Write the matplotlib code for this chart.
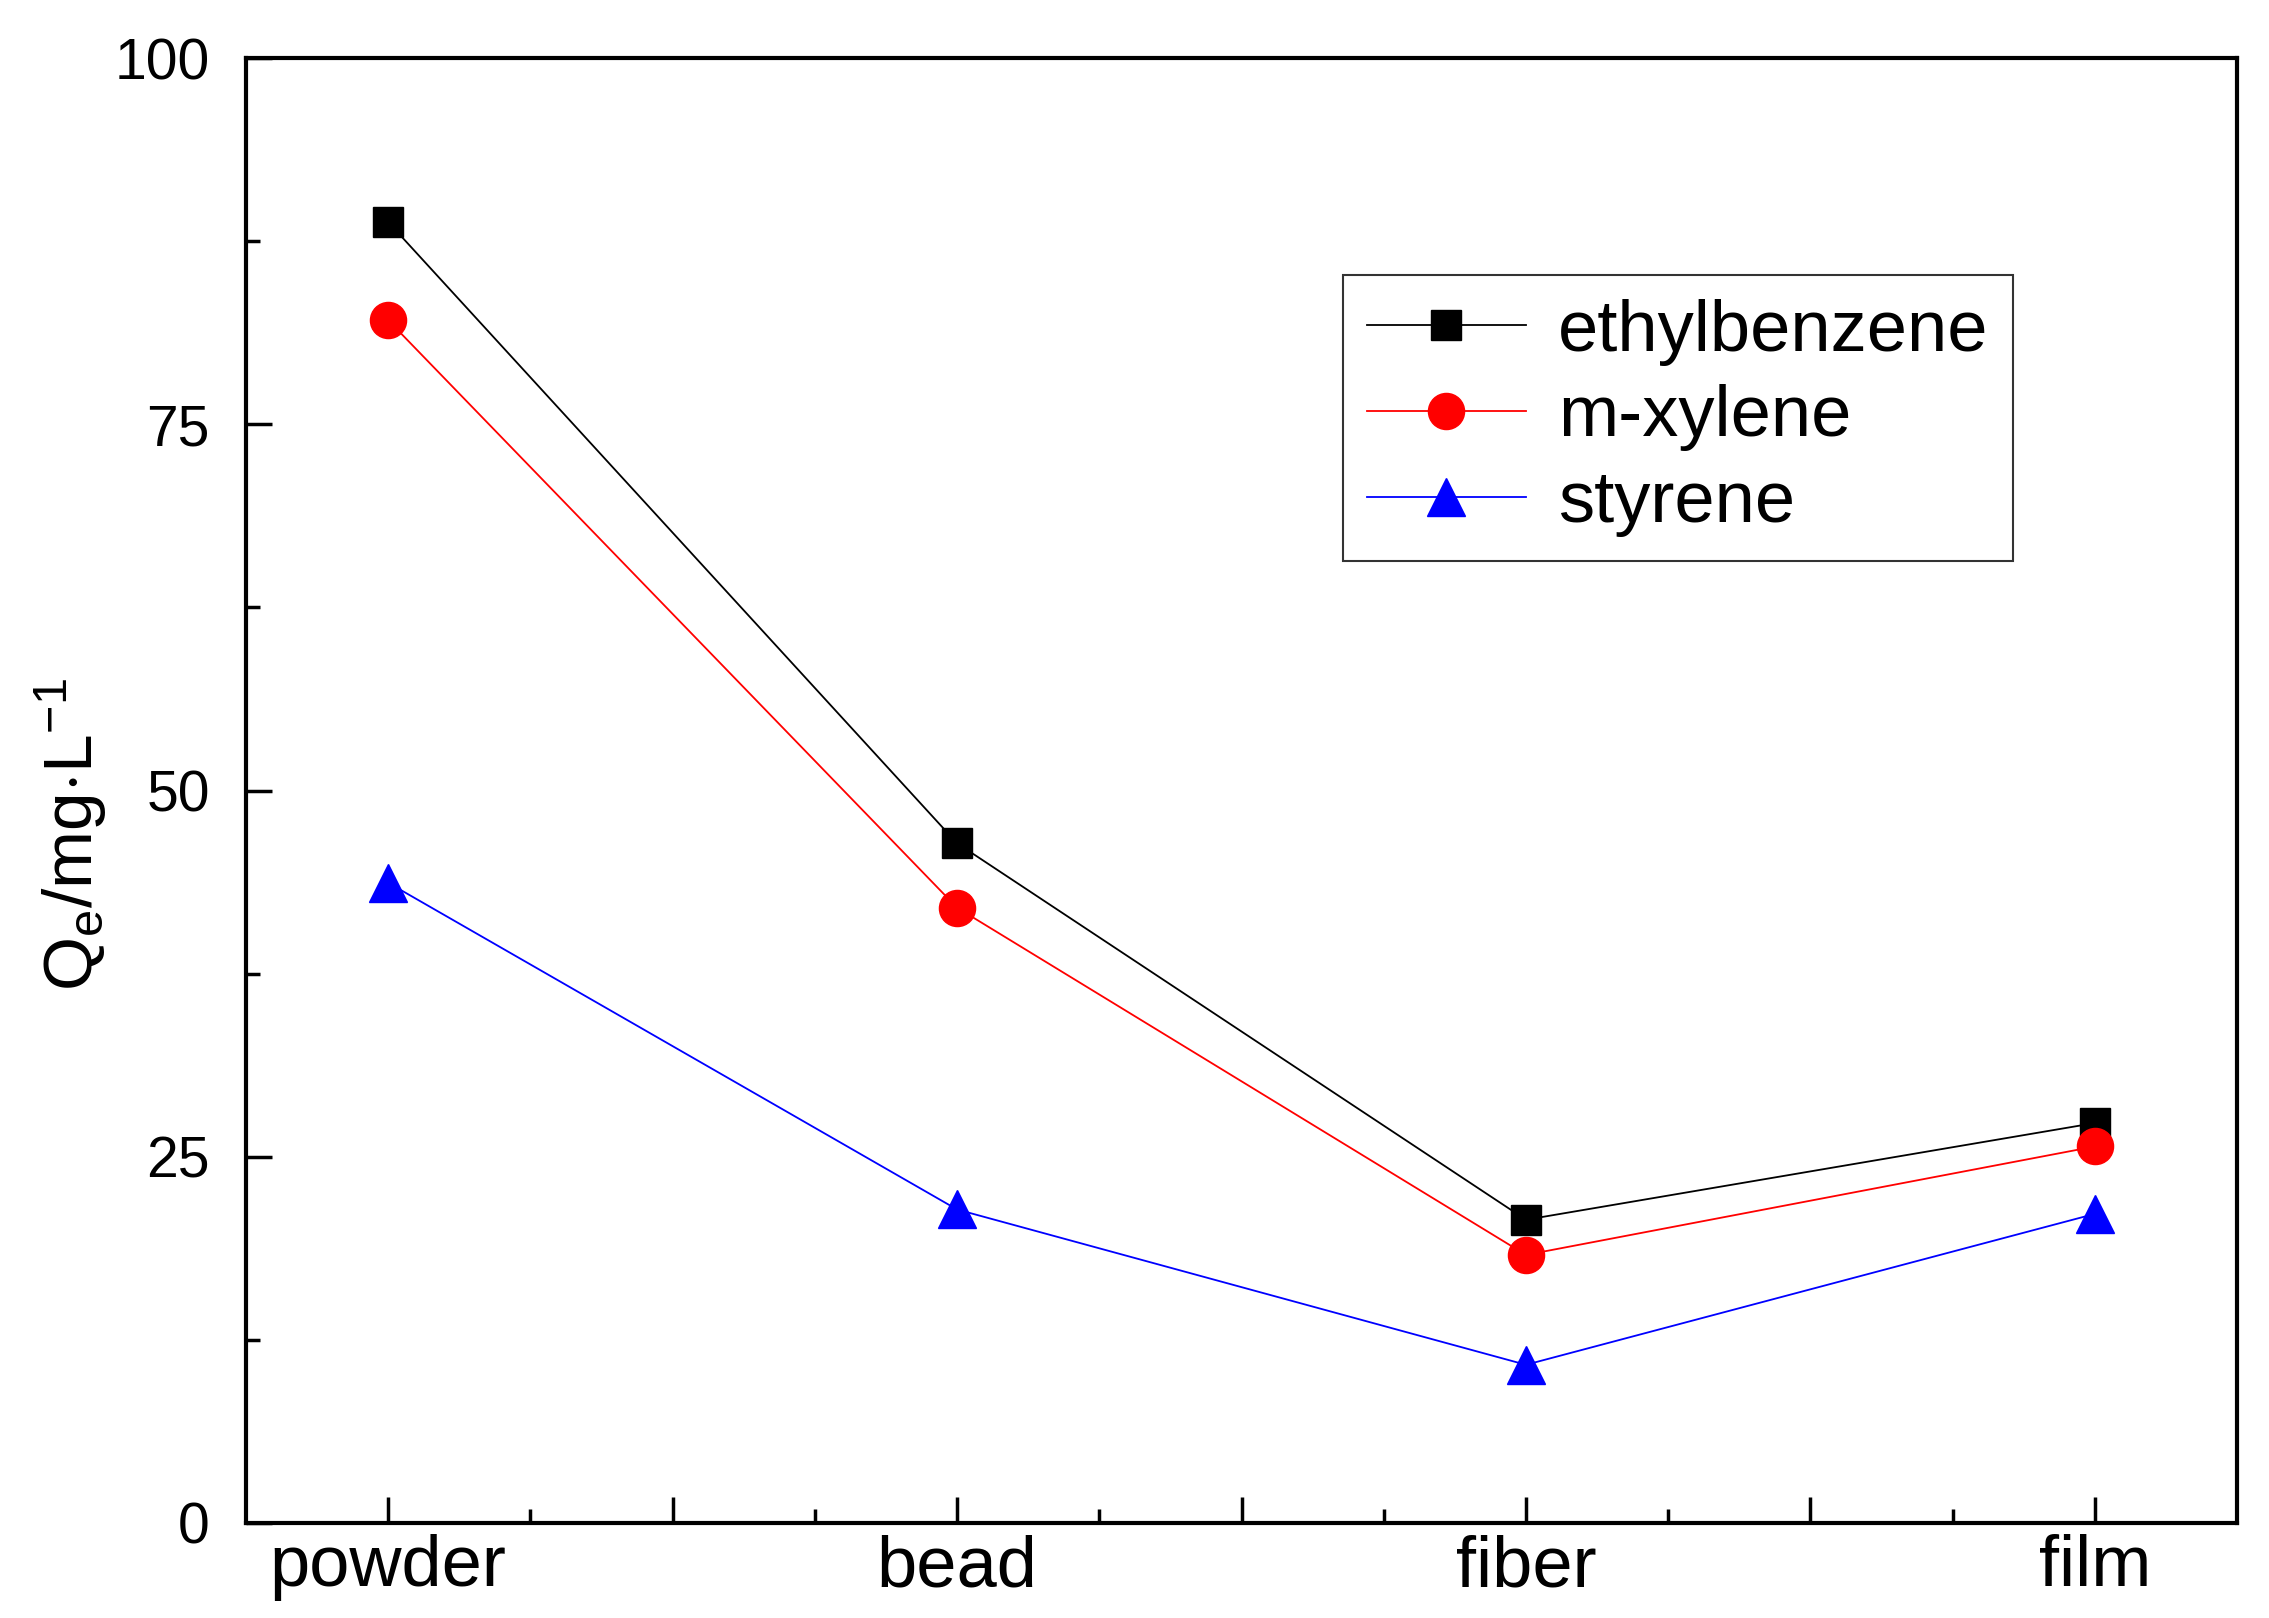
import numpy as np
import matplotlib
matplotlib.use("Agg")
import matplotlib.pyplot as plt
from matplotlib.ticker import MultipleLocator, FixedLocator

plt.rcParams['font.family'] = ['Liberation Sans', 'DejaVu Sans']
plt.rcParams['mathtext.fontset'] = 'custom'
plt.rcParams['mathtext.rm'] = 'Liberation Sans'
plt.rcParams['mathtext.it'] = 'Liberation Sans'

# data
categories = ["powder", "bead", "fiber", "film"]
ethylbenzene = [88.8, 46.4, 20.7, 27.3]
m_xylene = [82.1, 42.0, 18.3, 25.7]
styrene = [43.7, 21.4, 10.8, 21.1]

x = np.arange(len(categories))

fig = plt.figure(figsize=(22.69, 16.18), dpi=100)
ax = fig.add_axes([246 / 2269, 1 - 1523 / 1618, (2237 - 246) / 2269, (1523 - 58) / 1618])

ax.plot(x, ethylbenzene, color="black", lw=1.3, marker="s", ms=22, label="ethylbenzene")
ax.plot(x, m_xylene, color="red", lw=1.3, marker="o", ms=26, label="m-xylene")
ax.plot(x, styrene, color="blue", lw=1.3, marker="^", ms=27, label="styrene")

ax.set_xlim(-0.25, 3.25)
ax.set_ylim(0, 100)
ax.yaxis.set_major_locator(MultipleLocator(25))
ax.yaxis.set_minor_locator(MultipleLocator(12.5))
ax.xaxis.set_major_locator(FixedLocator([0, 0.5, 1, 1.5, 2, 2.5, 3]))
ax.xaxis.set_minor_locator(FixedLocator([0.25, 0.75, 1.25, 1.75, 2.25, 2.75]))
ax.set_xticklabels(["powder", "", "bead", "", "fiber", "", "film"])

ax.tick_params(which="both", direction="in", width=2.5, labelsize=41)
ax.tick_params(which="major", length=19)
ax.tick_params(which="minor", length=10)
ax.tick_params(axis="y", pad=26)
ax.tick_params(axis="x", pad=8, labelsize=52)
for s in ax.spines.values():
    s.set_linewidth(3)

ax.set_ylabel(r"Q$_\mathregular{e}$/mg$\cdot$L$^{\mathregular{-1}}$", fontsize=50)
ax.yaxis.set_label_coords(-0.069, 0.47)

leg = ax.legend(loc="upper left", bbox_to_anchor=(0.551, 0.852), fontsize=52,
                frameon=True, fancybox=False, edgecolor="black", handlelength=2.2,
                borderpad=0.33, labelspacing=0.26, handletextpad=0.45, borderaxespad=0)
leg.get_frame().set_linewidth(1.5)

fig.savefig("out.png", dpi=100)
